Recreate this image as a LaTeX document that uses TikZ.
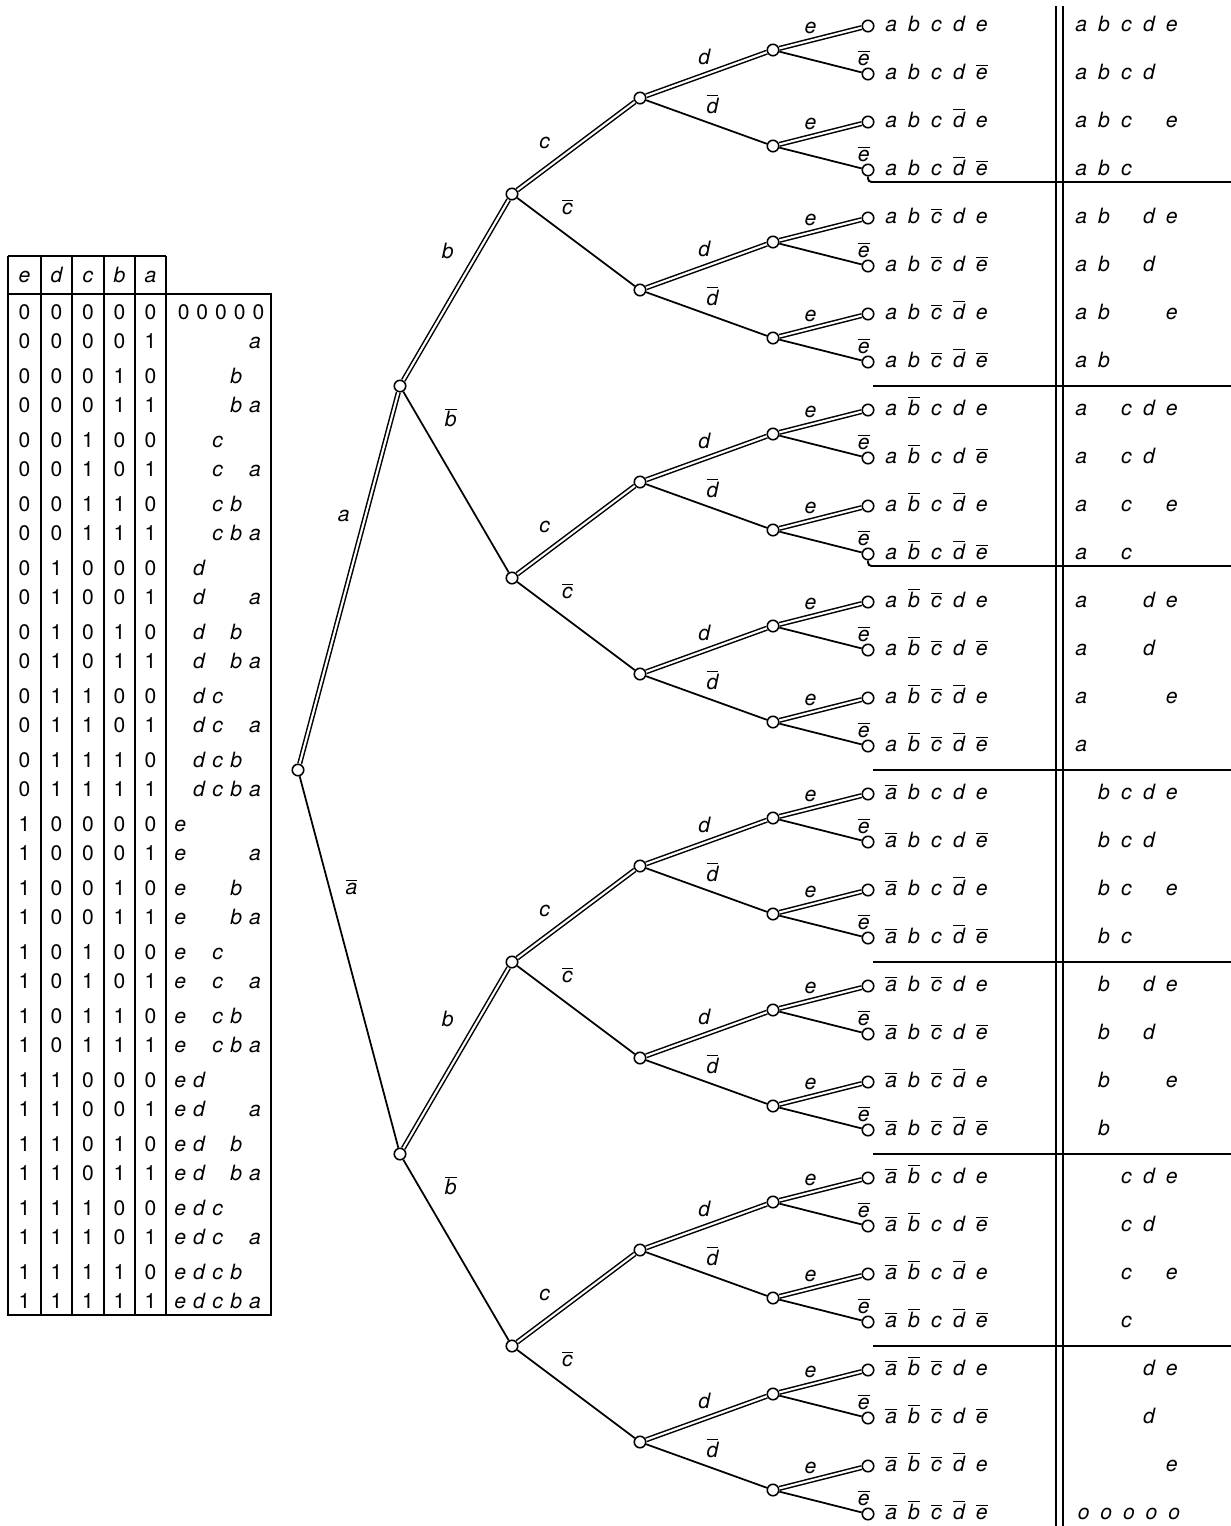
\documentclass[tikz,border=0pt]{standalone}
\usepackage{fontspec}
\setmainfont{TeX Gyre Heros}
\usepackage{tikz}
\usetikzlibrary{positioning}

\newlength\colw \setlength\colw{12.87pt}
\newlength\tabw \setlength\tabw{10.63pt}
\newcommand\nb[1]{$\overline{\mbox{\itshape #1}}$}
\newcommand\lit[2]{\makebox[\colw]{\ifnum#1=0 #2\else\nb{#2}\fi}}
\newcommand\poslit[2]{\makebox[\colw]{\ifnum#1=0 #2\fi}}
\newcommand\tablit[2]{\makebox[\tabw]{\ifnum#1=1 #2\fi}}

\begin{document}
\fontsize{12}{14}\selectfont
\begin{tikzpicture}[x=0.02cm, y=-0.02cm]
    \tikzstyle{dot} = [circle, draw, fill=white, line width=0.9pt, minimum size=0.23cm, inner sep=0pt]
    \tikzstyle{posedge} = [draw, double, line width=0.85pt, double distance=1.2pt]
    \tikzstyle{negedge} = [draw, line width=1pt]
    \tikzstyle{lbl} = [auto, font=\itshape]
    \tikzstyle{row} = [anchor=base west, inner sep=0pt, font=\itshape]
    \tikzstyle{cell} = [anchor=base, inner sep=0pt]
    \tikzstyle{rule} = [line width=1.1pt]

    \useasboundingbox (0,0) rectangle (1231,1526);

    % tree nodes, level by level
    \foreach \lv/\x in {0/298,1/400,2/512,3/640,4/773,5/868} {
        \pgfmathtruncatemacro\m{2^\lv-1}
        \pgfmathtruncatemacro\w{2^(5-\lv)}
        \foreach \j in {0,...,\m}
            \node[dot] (n\lv-\j) at (\x, {26+48*(\j*\w+(\w-1)/2)}) {};
    }

    % branches: plain variable doubled, complement single
    \foreach \lv/\ltr/\pp/\pn/\sep in {1/a/.62/.35/6pt, 2/b/.6/.27/7pt, 3/c/.36/.3/5pt, 4/d/.58/.45/3pt, 5/e/.5/.9/2pt} {
        \pgfmathtruncatemacro\m{2^\lv-1}
        \pgfmathtruncatemacro\prev{\lv-1}
        \foreach \j in {0,...,\m} {
            \pgfmathtruncatemacro\up{floor(\j/2)}
            \pgfmathtruncatemacro\odd{mod(\j,2)}
            \ifnum\odd=0
                \path [posedge] (n\prev-\up) -- node[lbl, pos=\pp, inner sep=\sep] {\ltr} (n\lv-\j);
            \else
                \path [negedge] (n\prev-\up) -- node[lbl, pos=\pn, inner sep=\sep] {\nb{\ltr}} (n\lv-\j);
            \fi
        }
    }

    % leaf terms and reduced terms
    \foreach \i in {0,...,31} {
        \pgfmathtruncatemacro\va{mod(floor(\i/16),2)}
        \pgfmathtruncatemacro\vb{mod(floor(\i/8),2)}
        \pgfmathtruncatemacro\vc{mod(floor(\i/4),2)}
        \pgfmathtruncatemacro\vd{mod(floor(\i/2),2)}
        \pgfmathtruncatemacro\ve{mod(\i,2)}
        \node[row] (lf-\i) at (879.6, {26+48*\i+5}) {\lit\va{a}\lit\vb{b}\lit\vc{c}\lit\vd{d}\lit\ve{e}};
        \ifnum\i<31
            \node[row] (rt-\i) at (1069.6, {26+48*\i+5}) {\poslit\va{a}\poslit\vb{b}\poslit\vc{c}\poslit\vd{d}\poslit\ve{e}};
        \else
            \node[row] (rt-\i) at (1072, {26+48*\i+5}) {\makebox[\colw]{o}\makebox[\colw]{o}\makebox[\colw]{o}\makebox[\colw]{o}\makebox[\colw]{o}};
        \fi
    }

    % group rules on the right
    \draw[rule] (1056,6) -- (1056,1526);
    \draw[rule] (1063,6) -- (1063,1526);
    \draw[rule, rounded corners=2pt] (n5-3.south) |- (1231,182);
    \draw[rule, rounded corners=2pt] (n5-11.south) |- (1231,566);
    \foreach \y in {386,770,962,1154,1346}
        \draw[rule] (873,\y) -- (1231,\y);

    % truth table
    \draw[rule] (8,256) -- (166,256);
    \draw[rule] (8,256) -- (8,1315) -- (271,1315) -- (271,294) -- (8,294);
    \foreach \x in {41,72,104,135,166}
        \draw[rule] (\x,256) -- (\x,1315);
    \foreach \v/\x in {e/24.5,d/56.5,c/88,b/119.5,a/150.5}
        \node[cell, font=\itshape] (h-\v) at (\x,282) {\v};
    \foreach \r in {0,...,31} {
        \pgfmathsetmacro\y{313+64*floor(\r/2)+29*mod(\r,2)+6}
        \pgfmathtruncatemacro\ve{mod(floor(\r/16),2)}
        \pgfmathtruncatemacro\vd{mod(floor(\r/8),2)}
        \pgfmathtruncatemacro\vc{mod(floor(\r/4),2)}
        \pgfmathtruncatemacro\vb{mod(floor(\r/2),2)}
        \pgfmathtruncatemacro\va{mod(\r,2)}
        \node[cell] (t-\r-e) at (24.5,\y) {\ve};
        \node[cell] (t-\r-d) at (56.5,\y) {\vd};
        \node[cell] (t-\r-c) at (88,\y) {\vc};
        \node[cell] (t-\r-b) at (119.5,\y) {\vb};
        \node[cell] (t-\r-a) at (150.5,\y) {\va};
        \ifnum\r=0
            \node[row, font=\upshape] (tr-\r) at (174,\y) {\makebox[\tabw]{0}\makebox[\tabw]{0}\makebox[\tabw]{0}\makebox[\tabw]{0}\makebox[\tabw]{0}};
        \else
            \node[row] (tr-\r) at (170.6,\y) {\tablit\ve{e}\tablit\vd{d}\tablit\vc{c}\tablit\vb{b}\tablit\va{a}};
        \fi
    }
\end{tikzpicture}
\end{document}
